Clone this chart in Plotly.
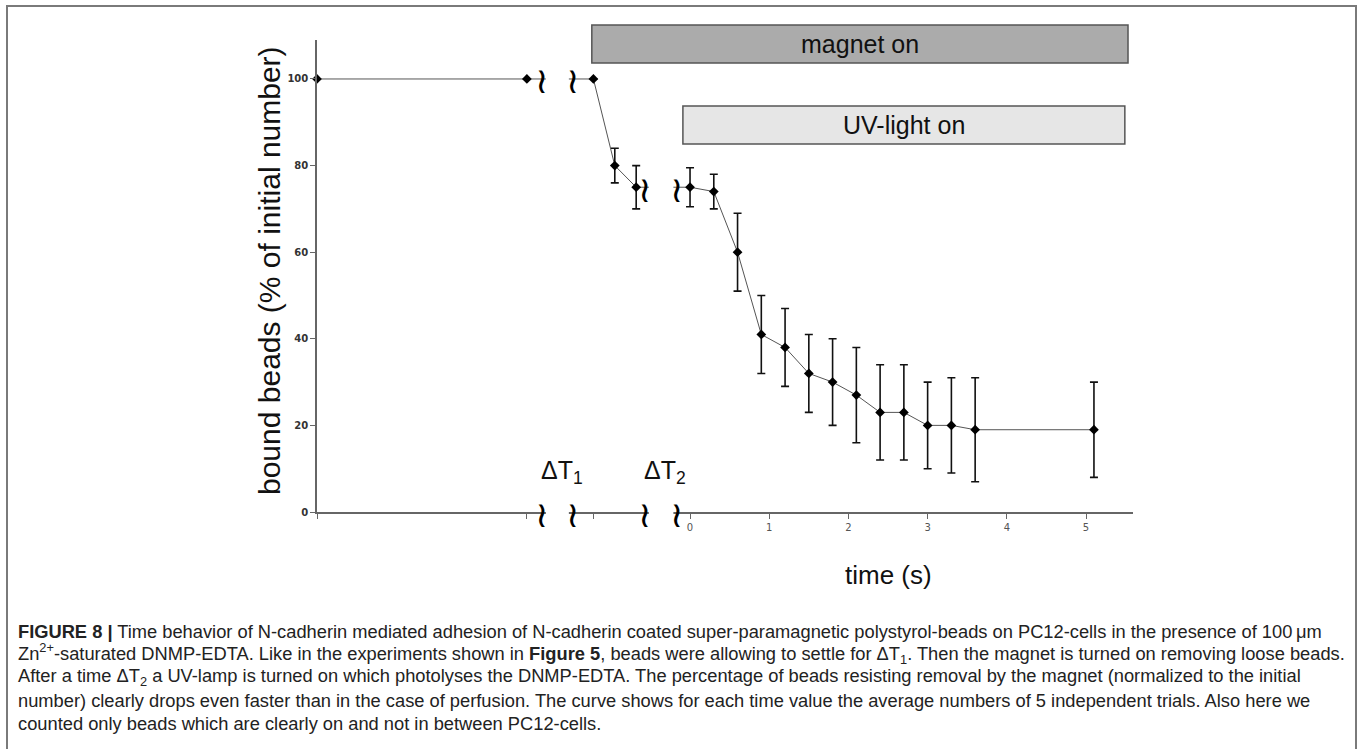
import plotly.graph_objects as go

# ---------------- data ----------------
# settle phase (before magnet), plotted left of the first axis break
settle_pos = [-4.71, -2.06]
settle_val = [100, 100]
settle_err = [0, 0]
# magnet phase (before UV), between the two axis breaks
magnet_pos = [-1.22, -0.95, -0.68]
magnet_val = [100, 80, 75]
magnet_err = [0, 4, 5]
# UV phase, real time axis (s)
time_s = [0, 0.3, 0.6, 0.9, 1.2, 1.5, 1.8, 2.1, 2.4, 2.7, 3.0, 3.3, 3.6, 5.1]
uv_val = [75, 74, 60, 41, 38, 32, 30, 27, 23, 23, 20, 20, 19, 19]
uv_err = [4.5, 4, 9, 9, 9, 9, 10, 11, 11, 11, 10, 11, 12, 11]

x_ticks = [0, 1, 2, 3, 4, 5]
y_ticks = [0, 20, 40, 60, 80, 100]
break_pos = [-1.87, -1.48, -0.57, -0.16]   # axis-break glyph positions
magnet_on_start = -1.24
uv_on_start = -0.09
bars_end = [5.53, 5.49]

caption_lines = [
    "<b>FIGURE 8 |</b> Time behavior of N-cadherin mediated adhesion of N-cadherin coated super-paramagnetic polystyrol-beads on PC12-cells in the presence of 100\u2009\u03bcm",
    "Zn<sup>2+</sup>-saturated DNMP-EDTA. Like in the experiments shown in <b>Figure 5</b>, beads were allowing to settle for \u0394T<sub>1</sub>. Then the magnet is turned on removing loose beads.",
    "After a time \u0394T<sub>2</sub> a UV-lamp is turned on which photolyses the DNMP-EDTA. The percentage of beads resisting removal by the magnet (normalized to the initial",
    "number) clearly drops even faster than in the case of perfusion. The curve shows for each time value the average numbers of 5 independent trials. Also here we",
    "counted only beads which are clearly on and not in between PC12-cells.",
]

# ---------------- layout geometry ----------------
W, H = 1357, 749
L, R, T, B = 317, 1133, 40, 512


def xp(px):
    return (px - L) / (R - L)


def yp(py):
    return (B - py) / (B - T)


xs = settle_pos + magnet_pos + time_s
ys = settle_val + magnet_val + uv_val
es = settle_err + magnet_err + uv_err

fig = go.Figure()
fig.add_trace(go.Scatter(
    x=xs, y=ys,
    mode="lines+markers",
    line=dict(color="#555555", width=1),
    marker=dict(symbol="diamond", size=7.5, color="black"),
    error_y=dict(type="data", array=es, visible=True, color="#111111",
                 thickness=1.6, width=4),
    cliponaxis=False,
    showlegend=False,
))

shapes = []
# white gaps for axis breaks
for a, b in [(break_pos[0] + 0.05, break_pos[1] - 0.05), (break_pos[2] + 0.05, break_pos[3] - 0.05)]:
    shapes.append(dict(type="rect", xref="x", yref="paper", x0=a, x1=b,
                       y0=yp(522), y1=yp(70), fillcolor="white",
                       line=dict(width=0), layer="above"))
# magnet on / UV-light on bars
shapes.append(dict(type="rect", xref="x", yref="paper", x0=magnet_on_start, x1=bars_end[0],
                   y0=yp(63), y1=yp(25), fillcolor="#ababab",
                   line=dict(color="#555555", width=1.5), layer="above"))
shapes.append(dict(type="rect", xref="x", yref="paper", x0=uv_on_start, x1=bars_end[1],
                   y0=yp(144), y1=yp(106), fillcolor="#e6e6e6",
                   line=dict(color="#555555", width=1.5), layer="above"))
# outer frame
shapes.append(dict(type="rect", xref="paper", yref="paper", x0=xp(7), x1=xp(1356),
                   y0=yp(770), y1=yp(6), fillcolor="rgba(0,0,0,0)",
                   line=dict(color="#7a7a7a", width=2), layer="above"))

ann = []
# break glyphs
for i, bx in enumerate(break_pos):
    for yv in ([0, 100] if i < 2 else [0, 75]):
        ann.append(dict(x=bx, y=yv, xref="x", yref="y", text="\u2240", showarrow=False,
                        font=dict(family="DejaVu Sans", size=36, color="black"),
                        xanchor="center", yanchor="middle", yshift=-2))
ann.append(dict(x=(magnet_on_start + bars_end[0]) / 2, y=yp(44), xref="x", yref="paper",
                text="magnet on", showarrow=False, yanchor="middle", xanchor="center",
                font=dict(family="Liberation Sans", size=25, color="#111111")))
ann.append(dict(x=(uv_on_start + bars_end[1]) / 2, y=yp(125), xref="x", yref="paper",
                text="UV-light on", showarrow=False, yanchor="middle", xanchor="center",
                font=dict(family="Liberation Sans", size=25, color="#111111")))
ann.append(dict(x=xp(539), y=yp(472), xref="paper", yref="paper", text="\u0394T<sub>1</sub>",
                showarrow=False, xanchor="left", yanchor="middle",
                font=dict(family="Liberation Sans", size=25, color="#111111")))
ann.append(dict(x=xp(642), y=yp(472), xref="paper", yref="paper", text="\u0394T<sub>2</sub>",
                showarrow=False, xanchor="left", yanchor="middle",
                font=dict(family="Liberation Sans", size=25, color="#111111")))
ann.append(dict(x=xp(888), y=yp(575), xref="paper", yref="paper", text="time (s)",
                showarrow=False, xanchor="center", yanchor="middle",
                font=dict(family="Liberation Sans", size=26, color="#111111")))
ann.append(dict(x=xp(269), y=yp(271), xref="paper", yref="paper",
                text="bound beads (% of initial number)", textangle=-90,
                showarrow=False, xanchor="center", yanchor="middle",
                font=dict(family="Liberation Sans", size=30, color="#111111")))
for i, line in enumerate(caption_lines):
    ann.append(dict(x=xp(16), y=yp(631 + 23 * i), xref="paper", yref="paper", text=line,
                    showarrow=False, xanchor="left", yanchor="middle", align="left",
                    font=dict(family="Liberation Sans", size=18.3, color="#222222")))

fig.update_layout(
    width=W, height=H,
    margin=dict(l=L, r=W - R, t=T, b=H - B),
    paper_bgcolor="white", plot_bgcolor="white",
    shapes=shapes, annotations=ann,
    xaxis=dict(range=[settle_pos[0], settle_pos[0] + (R - L) / 79.2],
               tickmode="array", tickvals=x_ticks, ticktext=[str(v) for v in x_ticks],
               showgrid=False, zeroline=False, showline=True, linecolor="#666666", linewidth=1.5,
               ticks="outside", ticklen=5, tickcolor="#666666", tickwidth=1.2,
               minor=dict(tickmode="array",
                          tickvals=[settle_pos[0], settle_pos[1], magnet_pos[0]],
                          ticks="outside", ticklen=5, tickcolor="#666666", tickwidth=1.2,
                          showgrid=False),
               tickfont=dict(family="DejaVu Sans", size=10, color="#555555")),
    yaxis=dict(range=[0, 109], tickvals=y_ticks,
               showgrid=False, zeroline=False, showline=True, linecolor="#666666", linewidth=1.5,
               ticks="outside", ticklen=5, tickcolor="#666666", tickwidth=1.2,
               tickfont=dict(family="DejaVu Sans", size=10, color="#333333", weight="bold")),
)

fig.write_html("out.html")
